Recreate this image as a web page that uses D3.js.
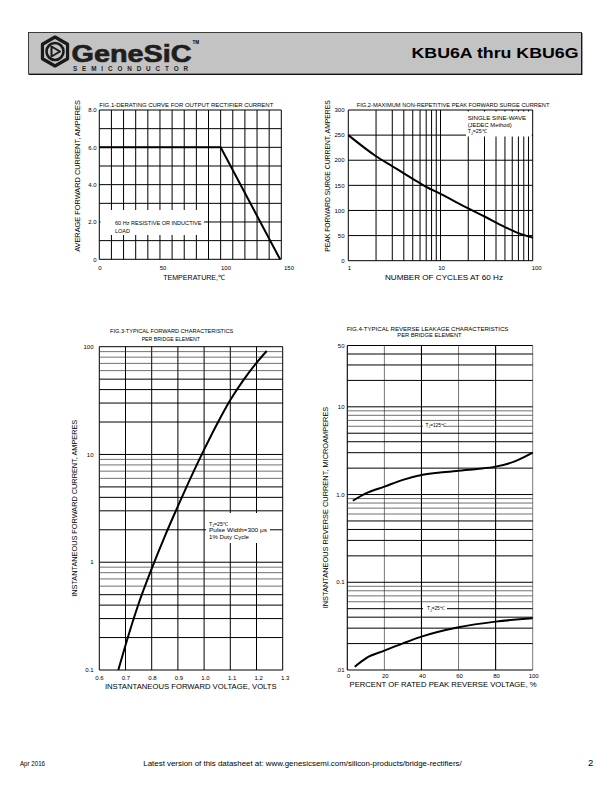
<!DOCTYPE html>
<html><head><meta charset="utf-8">
<script src="https://cdn.jsdelivr.net/npm/d3@7"></script>
<style>body{margin:0;background:#fff}svg{display:block;font-family:"Liberation Sans",Arial,sans-serif}</style>
</head><body><svg id="c" width="612" height="792"></svg>
<script>
// ---------------- DATA ----------------
const fig1Temp = [0, 100, 149];
const fig1Current = [6.0, 6.0, 0];
const fig1XTicks = [0, 50, 100, 150];
const fig1YTicks = [0, 2, 4, 6, 8];
const fig1YTickLabels = ["0", "2.0", "4.0", "6.0", "8.0"];

const fig2Cycles = [1, 2, 3, 5, 7, 10, 20, 30, 50, 70, 100];
const fig2Surge = [250, 208, 188, 163, 147, 133, 104, 88, 67, 55, 46];
const fig2XTicks = [1, 10, 100];
const fig2YTicks = [0, 50, 100, 150, 200, 250, 300];

const fig3Volts = [0.6725, 0.70, 0.75, 0.80, 0.85, 0.90, 0.95, 1.00, 1.05, 1.10, 1.15, 1.20, 1.239];
const fig3Amps = [0.1, 0.17, 0.412, 0.871, 1.74, 3.31, 6.17, 11.1, 19.3, 32.0, 49.0, 70.8, 91.2];
const fig3XTicks = [0.6, 0.7, 0.8, 0.9, 1.0, 1.1, 1.2, 1.3];
const fig3YTicks = [0.1, 1, 10, 100];
const fig3YTickLabels = ["0.1", "1", "10", "100"];

const fig4Pct125 = [3, 10, 20, 30, 40, 50, 60, 70, 80, 90, 100];
const fig4Cur125 = [0.85, 1.03, 1.23, 1.47, 1.67, 1.78, 1.87, 1.96, 2.08, 2.37, 3.0];
const fig4Pct25 = [4, 10, 20, 30, 40, 60, 80, 100];
const fig4Cur25 = [0.0109, 0.0136, 0.0166, 0.0201, 0.024, 0.0307, 0.0356, 0.0389];
const fig4XTicks = [0, 20, 40, 60, 80, 100];
const fig4YTicks = [0.01, 0.1, 1, 10, 50];
const fig4YTickLabels = [".01", "0.1", "1.0", "10", "50"];

// ---------------- HELPERS ----------------
const svg = d3.select("#c");
function text(g, x, y, s, o = {}) {
  const t = g.append("text").attr("x", x).attr("y", y)
    .attr("font-size", o.size || 5.5)
    .attr("fill", o.fill || "#000")
    .attr("text-anchor", o.anchor || "start")
    .text(s);
  if (o.len) t.attr("textLength", o.len).attr("lengthAdjust", o.adjust || "spacingAndGlyphs");
  if (o.weight) t.attr("font-weight", o.weight);
  if (o.rotate) t.attr("transform", `rotate(-90,${x},${y})`);
  return t;
}
function subText(g, x, y, pre, sub, post, size) {
  const t = g.append("text").attr("x", x).attr("y", y).attr("font-size", size);
  t.append("tspan").text(pre);
  t.append("tspan").attr("font-size", size * 0.7).attr("dy", 1.2).text(sub);
  t.append("tspan").attr("dy", -1.2).text(post);
  return t;
}
function hline(g, x0, x1, y, w, c) {
  g.append("line").attr("x1", x0).attr("x2", x1).attr("y1", y).attr("y2", y)
    .attr("stroke", c || "#000").attr("stroke-width", w || 1);
}
function vline(g, x, y0, y1, w, c) {
  g.append("line").attr("x1", x).attr("x2", x).attr("y1", y0).attr("y2", y1)
    .attr("stroke", c || "#000").attr("stroke-width", w || 1);
}
function curve(g, xs, ys, sx, sy, c) {
  const pts = xs.map((d, i) => [sx(d), sy(ys[i])]);
  g.append("path").attr("d", d3.line().curve(c || d3.curveMonotoneX)(pts))
    .attr("fill", "none").attr("stroke", "#000").attr("stroke-width", 2)
    .attr("stroke-linejoin", "round");
}
function lead(v) { return Math.round(v / Math.pow(10, Math.floor(Math.log10(v) + 1e-9))); }

// ---------------- HEADER ----------------
const hdr = svg.append("g");
hdr.append("rect").attr("x", 28.5).attr("y", 32.5).attr("width", 553).attr("height", 41.5)
  .attr("fill", "#c3c3c3").attr("stroke", "#3a3a3a").attr("stroke-width", 1);
hline(hdr, 29, 582, 74.5, 1.2, "#111");
vline(hdr, 581.8, 33, 75, 1.2, "#111");
// logo icon
const ic = hdr.append("g").attr("transform", "translate(55,51.5)");
const hex = r => d3.range(6).map(i => { const a = Math.PI / 3 * i + Math.PI / 6; return [r * Math.cos(a), r * Math.sin(a)]; });
ic.append("path").attr("d", d3.line().curve(d3.curveLinearClosed)(hex(14.5)))
  .attr("fill", "none").attr("stroke", "#1a1a1a").attr("stroke-width", 3.2).attr("stroke-linejoin", "round");
ic.append("circle").attr("r", 8.5).attr("fill", "none").attr("stroke", "#1a1a1a").attr("stroke-width", 2.6);
ic.append("path").attr("d", "M-3.5,-5 L5,0 L-3.5,5 Z").attr("fill", "none").attr("stroke", "#1a1a1a").attr("stroke-width", 2).attr("stroke-linejoin", "round");
text(hdr, 71.5, 61.5, "GeneSiC", { size: 24, weight: "900", len: 120, fill: "#1e1e1e" })
  .attr("stroke", "#1e1e1e").attr("stroke-width", 0.7);
text(hdr, 192.5, 44, "TM", { size: 4.5, weight: "bold" });
text(hdr, 73, 71, "SEMICONDUCTOR", { size: 6.3, len: 115, adjust: "spacing", fill: "#1e1e1e", weight: "bold" });
text(hdr, 578.5, 58.3, "KBU6A thru KBU6G", { size: 15, weight: "bold", anchor: "end", len: 167 });

// ---------------- FIG 1 ----------------
{
  const g = svg.append("g");
  const x = d3.scaleLinear().domain([0, 150]).range([99.3, 281.3]);
  const y = d3.scaleLinear().domain([0, 8]).range([259.3, 110]);
  const xl = d3.scaleLinear().domain([0, 150]).range([100, 289]);
  x.ticks(15).forEach(v => vline(g, x(v), y(8), y(0), 1));
  y.ticks(8).forEach(v => hline(g, x(0), x(150), y(v), 1));
  g.append("rect").attr("x", 100.5).attr("y", 210).attr("width", 103.5).attr("height", 25).attr("fill", "#fff");
  text(g, 115, 224.5, "60 Hz RESISTIVE OR INDUCTIVE", { size: 5.3, len: 86.5 });
  text(g, 115, 232.6, "LOAD", { size: 5.3, len: 15 });
  curve(g, fig1Temp, fig1Current, x, y, d3.curveLinear);
  fig1XTicks.forEach(v => text(g, xl(v), 269.8, String(v), { size: 6 }).attr("text-anchor", "middle"));
  fig1YTicks.forEach((v, i) => text(g, 96.5, y(v) + 2.2, fig1YTickLabels[i], { size: 6, anchor: "end" }));
  text(g, 99.3, 107.3, "FIG.1-DERATING CURVE FOR OUTPUT RECTIFIER CURRENT", { size: 5.3, len: 174 });
  text(g, 194, 280.3, "TEMPERATURE,\u2103", { size: 7.3, anchor: "middle", len: 61.7 });
  text(g, 79.5, 176, "AVERAGE FORWARD CURRENT, AMPERES", { size: 7.3, anchor: "middle", len: 151.7, rotate: true });
}

// ---------------- FIG 2 ----------------
{
  const g = svg.append("g");
  const x = d3.scaleLog().domain([1, 100]).range([348.3, 532.7]);
  const y = d3.scaleLinear().domain([0, 300]).range([260.7, 110]);
  x.ticks().forEach(v => vline(g, x(v), y(300), y(0), 1));
  fig2YTicks.forEach(v => hline(g, x(1), x(100), y(v), 1));
  g.append("rect").attr("x", 466).attr("y", 111.5).attr("width", 65.7).attr("height", 25).attr("fill", "#fff");
  text(g, 467.7, 120.3, "SINGLE SINE-WAVE", { size: 5.3, len: 58.5 });
  text(g, 467.7, 127, "(JEDEC Method)", { size: 5.3, len: 44 });
  subText(g, 467.7, 133.3, "T", "J", "=25\u2103", 5.3);
  curve(g, fig2Cycles, fig2Surge, x, y);
  fig2XTicks.forEach((v, i) => text(g, x(v) + (i === 2 ? 4 : 1), 269.8, String(v), { size: 6, anchor: "middle" }));
  fig2YTicks.forEach(v => text(g, 344.5, y(v) + 2.2, String(v), { size: 6, anchor: "end" }));
  text(g, 356.7, 107.3, "FIG.2-MAXIMUM NON-REPETITIVE PEAK FORWARD SURGE CURRENT", { size: 5.3, len: 192.7 });
  text(g, 444, 280.3, "NUMBER OF CYCLES AT 60 Hz", { size: 7.3, anchor: "middle", len: 118 });
  text(g, 329.5, 176, "PEAK FORWARD SURGE CURRENT, AMPERES", { size: 7.3, anchor: "middle", len: 151.7, rotate: true });
}

// ---------------- FIG 3 ----------------
{
  const g = svg.append("g");
  const x = d3.scaleLinear().domain([0.6, 1.3]).range([99.3, 282.7]);
  const y = d3.scaleLog().domain([0.1, 100]).range([670, 346.7]);
  fig3XTicks.forEach(v => vline(g, x(v), y(100), y(0.1), 1));
  y.ticks().forEach(v => {
    const l = lead(v);
    hline(g, x(0.6), x(1.3), y(v), l <= 5 ? 1 : 0.7, l <= 5 ? "#000" : "#333");
  });
  g.append("rect").attr("x", 206).attr("y", 513).attr("width", 64).attr("height", 30).attr("fill", "#fff");
  subText(g, 209, 525.8, "T", "J", "=25\u2103", 5.2);
  text(g, 209, 532.2, "Pulse Width=300 \u03bcs", { size: 5.2, len: 58 });
  text(g, 209, 538.6, "1% Duty Cycle", { size: 5.2, len: 40 });
  curve(g, fig3Volts, fig3Amps, x, y);
  fig3XTicks.forEach(v => text(g, x(v) + (v - 0.6) * 3.5, 680, v.toFixed(1), { size: 6, anchor: "middle" }));
  fig3YTicks.forEach((v, i) => text(g, 93.5, y(v) + 2.2, fig3YTickLabels[i], { size: 6, anchor: "end" }));
  text(g, 171.7, 333.3, "FIG.3-TYPICAL FORWARD CHARACTERISTICS", { size: 5.3, anchor: "middle", len: 123.3 });
  text(g, 170.8, 340.7, "PER BRIDGE ELEMENT", { size: 5.3, anchor: "middle", len: 58.3 });
  text(g, 190.8, 689, "INSTANTANEOUS FORWARD VOLTAGE, VOLTS", { size: 7.3, anchor: "middle", len: 171.7 });
  text(g, 77.5, 508.3, "INSTANTANEOUS FORWARD CURRENT, AMPERES", { size: 7.3, anchor: "middle", len: 177, rotate: true });
}

// ---------------- FIG 4 ----------------
{
  const g = svg.append("g");
  const x = d3.scaleLinear().domain([0, 100]).range([347.3, 532.7]);
  const y = d3.scaleLog().domain([0.01, 50]).range([670, 345.5]);
  fig4XTicks.forEach((v, i) => vline(g, x(v), y(50), y(0.01), i % 2 ? 0.8 : 1.1, i % 2 ? "#555" : "#000"));
  y.ticks().forEach(v => {
    const l = lead(v);
    hline(g, x(0), x(100), y(v), l <= 5 ? 1 : 0.7, l <= 5 ? "#000" : "#333");
  });
  g.append("rect").attr("x", 423).attr("y", 421.5).attr("width", 21).attr("height", 7.5).attr("fill", "#fff");
  subText(g, 425.5, 426.6, "T", "J", "=125\u2103", 4.8);
  g.append("rect").attr("x", 423).attr("y", 604).attr("width", 24).attr("height", 9).attr("fill", "#fff");
  subText(g, 427, 610.3, "T", "J", "=25\u2103", 4.8);
  curve(g, fig4Pct125, fig4Cur125, x, y);
  curve(g, fig4Pct25, fig4Cur25, x, y);
  fig4XTicks.forEach(v => text(g, x(v) + 1, 678, String(v), { size: 6, anchor: "middle" }));
  fig4YTicks.forEach((v, i) => text(g, 344.5, y(v) + 2.2, fig4YTickLabels[i], { size: 6, anchor: "end" }));
  text(g, 427.5, 331.3, "FIG.4-TYPICAL REVERSE LEAKAGE CHARACTERISTICS", { size: 5.3, anchor: "middle", len: 161.7 });
  text(g, 429.5, 336.9, "PER BRIDGE ELEMENT", { size: 5.3, anchor: "middle", len: 64.3 });
  text(g, 443, 686.7, "PERCENT OF RATED PEAK REVERSE VOLTAGE, %", { size: 7.3, anchor: "middle", len: 187 });
  text(g, 327.5, 507.5, "INSTANTANEOUS REVERSE CURRENT, MICROAMPERES", { size: 7.3, anchor: "middle", len: 201.6, rotate: true });
}

// ---------------- FOOTER ----------------
text(svg, 20, 765.5, "Apr 2016", { size: 8, len: 25 });
text(svg, 143.3, 765.5, "Latest version of this datasheet at: www.genesicsemi.com/silicon-products/bridge-rectifiers/", { size: 8, len: 318.4 });
text(svg, 588, 765.5, "2", { size: 9.5 });
</script>
</body></html>
